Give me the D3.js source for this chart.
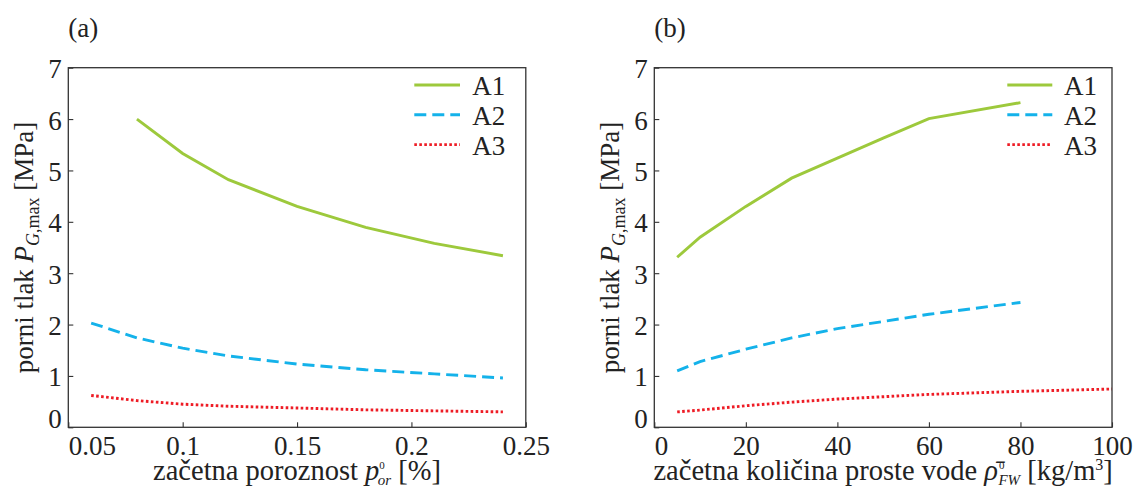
<!DOCTYPE html>
<html><head><meta charset="utf-8">
<script src="https://cdn.jsdelivr.net/npm/d3@7"></script>
<style>
body{margin:0;background:#fff;}
text{font-family:"Liberation Serif","Times New Roman",serif;fill:#222;}
</style></head>
<body><svg id="c" width="1135" height="486"></svg>
<script>
// ---- data (panel a) ----
const xA1a = [0.08, 0.10, 0.12, 0.15, 0.18, 0.21, 0.24];
const A1a  = [6.00, 5.33, 4.82, 4.30, 3.89, 3.58, 3.34];
const xA23a = [0.06, 0.08, 0.10, 0.12, 0.15, 0.18, 0.21, 0.24];
const A2a  = [2.03, 1.74, 1.54, 1.39, 1.23, 1.12, 1.04, 0.96];
const A3a  = [0.62, 0.52, 0.45, 0.41, 0.376, 0.34, 0.32, 0.30];
// ---- data (panel b) ----
const xA12b = [5, 10, 20, 30, 40, 50, 60, 80];
const A1b  = [3.31, 3.70, 4.30, 4.85, 5.24, 5.63, 6.01, 6.32];
const A2b  = [1.10, 1.28, 1.52, 1.74, 1.92, 2.06, 2.20, 2.43];
const xA3b = [5, 10, 20, 30, 40, 60, 80, 100];
const A3b  = [0.30, 0.335, 0.42, 0.49, 0.55, 0.64, 0.70, 0.745];
// ---- ticks ----
const xTicksA = [0.05, 0.1, 0.15, 0.2, 0.25];
const xTickLabelsA = ["0.05", "0.1", "0.15", "0.2", "0.25"];
const xTicksB = [0, 20, 40, 60, 80, 100];
const xTickLabelsB = ["0", "20", "40", "60", "80", "100"];
const yTicks = [0, 1, 2, 3, 4, 5, 6, 7];
const yTickLabels = ["0", "1", "2", "3", "4", "5", "6", "7"];
const seriesNames = ["A1", "A2", "A3"];

const colors = {A1: "#9dc93c", A2: "#14b2ea", A3: "#ee1c25"};
const dashes = {A1: null, A2: "12,6", A3: "2.6,2.4"};

const svg = d3.select("#c");

function panel(cfg) {
  const g = svg.append("g");
  const x = d3.scaleLinear().domain(cfg.xDomain).range([cfg.left, cfg.right]);
  const y = d3.scaleLinear().domain([0, 7]).range([cfg.bottom, cfg.top]);

  // series
  const line = d3.line().x(d => x(d[0])).y(d => y(d[1]));
  cfg.series.forEach(s => {
    g.append("path")
      .datum(d3.zip(s.xs, s.ys))
      .attr("d", line)
      .attr("fill", "none")
      .attr("stroke", colors[s.name])
      .attr("stroke-width", 2.9)
      .attr("stroke-dasharray", dashes[s.name]);
  });

  // bottom axis
  const xa = g.append("g").attr("transform", `translate(0,${cfg.bottom})`)
    .call(d3.axisBottom(x).tickValues(cfg.xTicks)
      .tickFormat((d, i) => cfg.xLabels[i]).tickSize(-5).tickPadding(9));
  xa.select(".domain").remove();
  xa.selectAll(".tick line").attr("stroke", "#333").attr("stroke-width", 1.1);
  xa.selectAll(".tick text").attr("font-size", 27).attr("fill", "#222")
    .attr("text-anchor", (d, i) => i === 0 ? "start" : "middle");

  // left axis
  const ya = g.append("g").attr("transform", `translate(${cfg.left},0)`)
    .call(d3.axisLeft(y).tickValues(yTicks).tickFormat((d, i) => yTickLabels[i])
      .tickSize(-5).tickPadding(6.6));
  ya.select(".domain").remove();
  ya.selectAll(".tick line").attr("stroke", "#333").attr("stroke-width", 1.1);
  ya.selectAll(".tick text").attr("font-size", 27).attr("fill", "#222")
    .attr("dy", d => d === 0 ? "0em" : "0.37em");

  // frame
  g.append("rect").attr("x", cfg.left).attr("y", cfg.top)
    .attr("width", cfg.right - cfg.left).attr("height", cfg.bottom - cfg.top)
    .attr("fill", "none").attr("stroke", "#333").attr("stroke-width", 1.3);

  // panel label
  g.append("text").attr("x", cfg.left).attr("y", 37).attr("font-size", 27).text(cfg.label);

  // y title
  const yt = g.append("text")
    .attr("transform", `translate(${cfg.left - 35},${(cfg.top + cfg.bottom) / 2}) rotate(-90)`)
    .attr("text-anchor", "middle").attr("font-size", 27);
  yt.append("tspan").text("porni tlak ");
  yt.append("tspan").attr("font-style", "italic").text("P");
  yt.append("tspan").attr("font-style", "italic").attr("font-size", 18).attr("dy", 6).text("G");
  yt.append("tspan").attr("font-size", 18).text(",max");
  yt.append("tspan").attr("dy", -6).text(" [MPa]");

  // x title
  const xt = g.append("text")
    .attr("x", (cfg.left + cfg.right) / 2).attr("y", 480)
    .attr("text-anchor", "middle").attr("font-size", 28.5);
  cfg.xTitle(xt);

  // legend
  seriesNames.forEach((n, i) => {
    const ly = 85 + i * 29.8;
    g.append("line").attr("x1", cfg.right - cfg.leg[0]).attr("x2", cfg.right - cfg.leg[1])
      .attr("y1", ly).attr("y2", ly)
      .attr("stroke", colors[n]).attr("stroke-width", 2.9)
      .attr("stroke-dasharray", dashes[n]);
    g.append("text").attr("x", cfg.right - cfg.leg[2]).attr("y", ly + 10)
      .attr("font-size", 27).text(n);
  });
}

panel({
  left: 68.3, right: 525.8, top: 67.7, bottom: 427.3,
  xDomain: [0.05, 0.25], xTicks: xTicksA, xLabels: xTickLabelsA, label: "(a)",
  leg: [111.5, 65.8, 53.5],
  series: [
    {name: "A1", xs: xA1a, ys: A1a},
    {name: "A2", xs: xA23a, ys: A2a},
    {name: "A3", xs: xA23a, ys: A3a}
  ],
  xTitle: t => {
    t.append("tspan").text("začetna poroznost ");
    t.append("tspan").attr("font-style", "italic").text("p");
    t.append("tspan").attr("font-size", 11).attr("dy", -11).text("0");
    t.append("tspan").attr("font-style", "italic").attr("font-size", 15).attr("dx", -7).attr("dy", 16).text("or");
    t.append("tspan").attr("dy", -5).text(" [%]");
  }
});

panel({
  left: 654.3, right: 1112, top: 67.7, bottom: 427.3,
  xDomain: [0, 100], xTicks: xTicksB, xLabels: xTickLabelsB, label: "(b)",
  leg: [104.7, 59.7, 48],
  series: [
    {name: "A1", xs: xA12b, ys: A1b},
    {name: "A2", xs: xA12b, ys: A2b},
    {name: "A3", xs: xA3b, ys: A3b}
  ],
  xTitle: t => {
    t.append("tspan").text("začetna količina proste vode ");
    t.append("tspan").attr("font-style", "italic").text("ρ\u0304");
    t.append("tspan").attr("font-size", 11).attr("dy", -11).attr("dx", 1).text("0");
    t.append("tspan").attr("font-style", "italic").attr("font-size", 15).attr("dx", -6).attr("dy", 16).text("FW");
    t.append("tspan").attr("dy", -5).text(" [kg/m");
    t.append("tspan").attr("font-size", 16).attr("dy", -10).text("3");
    t.append("tspan").attr("dy", 10).text("]");
  }
});
</script></body></html>
